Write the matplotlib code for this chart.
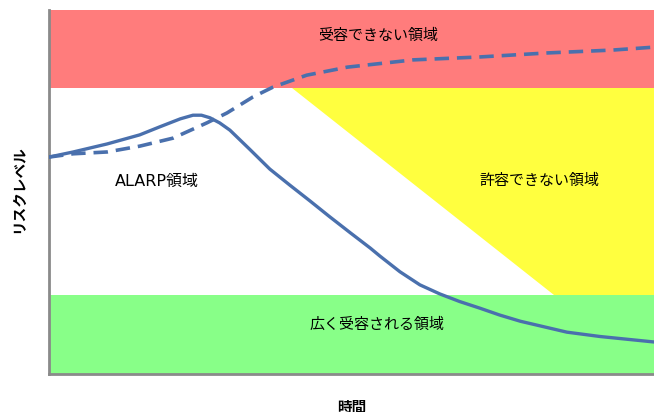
import numpy as np
import matplotlib
matplotlib.use("Agg")
import matplotlib.pyplot as plt

plt.rcParams['font.family'] = ['Noto Sans CJK JP', 'DejaVu Sans']

# region boundaries (risk level, 0-10 scale)
green_top = 2.17
red_bottom = 7.86
yellow_top_x = 4.02
yellow_bottom_x = 8.35

# solid curve (risk reduced over time)
solid_x = [0, 0.40, 0.96, 1.50, 1.83, 2.17, 2.38, 2.52, 2.66, 2.82, 2.99, 3.32,
           3.65, 3.98, 4.31, 4.64, 4.98, 5.31, 5.47, 5.80, 6.13, 6.46, 6.79,
           7.12, 7.45, 7.79, 8.56, 9.11, 10]
solid_y = [5.96, 6.10, 6.32, 6.57, 6.79, 7.01, 7.11, 7.11, 7.04, 6.90, 6.70, 6.17,
           5.63, 5.19, 4.76, 4.32, 3.88, 3.46, 3.24, 2.81, 2.45, 2.20, 1.99,
           1.81, 1.62, 1.45, 1.15, 1.03, 0.88]

# dashed curve (risk without action)
dash_x = [0, 0.40, 0.96, 1.50, 2.05, 2.61, 2.94, 3.37, 3.70, 4.26, 4.69,
          4.93, 6.02, 7.12, 8.23, 9.32, 10]
dash_y = [5.96, 6.05, 6.10, 6.26, 6.48, 6.90, 7.17, 7.61, 7.88, 8.21, 8.35,
          8.43, 8.63, 8.71, 8.82, 8.90, 8.98]

fig = plt.figure(figsize=(6.54, 4.12), dpi=100)
ax = fig.add_axes([0.0749, 0.0922, 0.9251, 0.8835])
ax.set_xlim(0, 10)
ax.set_ylim(0, 10)

# background bands
ax.axhspan(0, green_top, color='#88ff88', lw=0, zorder=0)
ax.axhspan(red_bottom, 10, color='#ff7c7c', lw=0, zorder=0)
ax.fill([yellow_top_x, 10, 10, yellow_bottom_x],
        [red_bottom, red_bottom, green_top, green_top],
        color='#ffff3f', lw=0, zorder=0)

ax.plot(solid_x, solid_y, color='#4a70ad', lw=2.4, solid_joinstyle='round',
        solid_capstyle='round', zorder=3)
ax.plot(dash_x, dash_y, color='#4a70ad', lw=2.6, dashes=(4, 2.2),
        dash_joinstyle='round', zorder=3)

# region labels
ax.text(5.45, 9.3, '受容できない領域', fontsize=10.8, ha='center', va='center')
ax.text(1.79, 5.3, 'ALARP領域', fontsize=11.5, ha='center', va='center',
        family=['DejaVu Sans', 'Noto Sans CJK JP'])
ax.text(8.1, 5.3, '許容できない領域', fontsize=10.8, ha='center', va='center')
ax.text(5.43, 1.35, '広く受容される領域', fontsize=10.8, ha='center', va='center')

ax.set_xticks([])
ax.set_yticks([])
for s in ['top', 'right']:
    ax.spines[s].set_visible(False)
for s in ['left', 'bottom']:
    ax.spines[s].set_color('#8a8a8a')
    ax.spines[s].set_linewidth(2)

fig.text(0.028, 0.54, 'リスクレベル', rotation=90, fontsize=10.5,
         fontweight='bold', ha='center', va='center')
fig.text(0.538, 0.012, '時間', fontsize=10.5, fontweight='bold',
         ha='center', va='center')

fig.savefig('out.png', dpi=100)
